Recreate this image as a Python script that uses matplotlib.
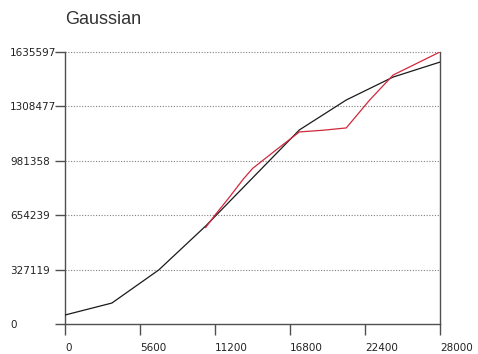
import numpy as np
import matplotlib
matplotlib.use("Agg")
import matplotlib.pyplot as plt

# data
x_black = [0, 3500, 7000, 10500, 14000, 17500, 21000, 24500, 28000]
y_black = [54000, 126000, 325000, 589000, 878000, 1167000, 1347000, 1485000, 1575000]

x_red = [10500, 11200, 12250, 13300, 14000, 15750, 17500, 19250, 21000, 22750, 24500, 28000]
y_red = [580000, 655000, 760000, 870000, 935000, 1046000, 1155000, 1165000, 1179000, 1347000,
         1497000, 1636000]

y_ticks = [0, 327119, 654239, 981358, 1308477, 1635597]
y_labels = ["0", "327119", "654239", "981358", "1308477", "1635597"]
x_ticks = [0, 5600, 11200, 16800, 22400, 28000]
x_labels = ["0", "5600", "11200", "16800", "22400", "28000"]

fig = plt.figure(figsize=(4.78, 3.54), dpi=100)
ax = fig.add_axes([65 / 478, 1 - 324 / 354, 375 / 478, 272 / 354])

# dotted grid, including the top line
for yv in y_ticks[1:]:
    ax.axhline(yv, color="#808080", lw=0.8, ls=(0, (1, 1.5)), clip_on=False, zorder=1)

ax.plot(x_black, y_black, color="#1a1a1a", lw=0.9, zorder=3)
ax.plot(x_red, y_red, color="#d0283c", lw=0.9, zorder=4)

ax.set_xlim(0, 28000)
ax.set_ylim(0, 1635597)

ax.spines["top"].set_visible(False)
for s in ["left", "right", "bottom"]:
    ax.spines[s].set_color("#505050")
    ax.spines[s].set_linewidth(1.0)

ax.set_yticks(y_ticks)
ax.set_yticklabels(y_labels)
ax.set_xticks(x_ticks)
ax.set_xticklabels(x_labels)

ax.tick_params(axis="y", length=7.2, width=1.0, color="#505050", pad=32.4,
               labelsize=7.5, labelcolor="#222222")
ax.tick_params(axis="x", length=8, width=1.0, color="#505050", pad=5.5,
               labelsize=7.5, labelcolor="#222222")
for lab in ax.get_yticklabels():
    lab.set_horizontalalignment("left")
for lab in ax.get_xticklabels():
    lab.set_horizontalalignment("left")

fig.text(65 / 478, 1 - 20 / 354, "Gaussian", fontsize=13, family="Liberation Sans",
         color="#333333", va="center", ha="left")

fig.savefig("out.png", dpi=100)
